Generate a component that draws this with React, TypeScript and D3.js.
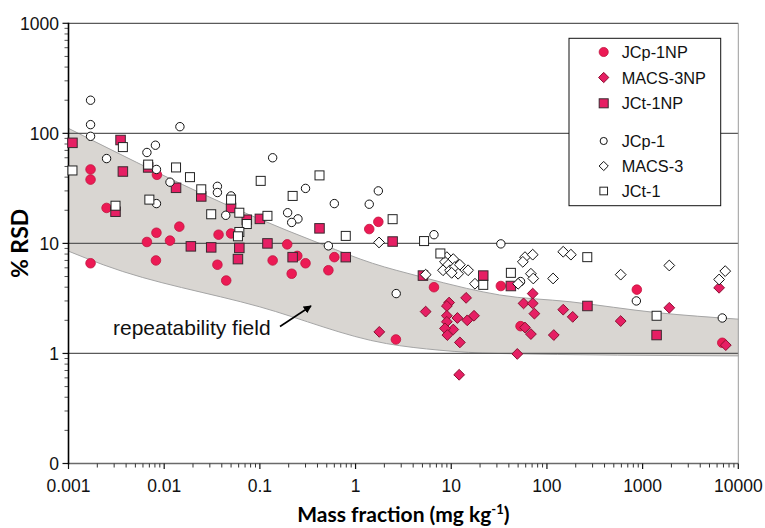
import React from 'react';
import * as d3 from 'd3';

const W = 765, H = 528;

const xTicks = [0.001, 0.01, 0.1, 1, 10, 100, 1000, 10000];
const xTickLabels = ['0.001', '0.01', '0.1', '1', '10', '100', '1000', '10000'];
const yTicks = [0.1, 1, 10, 100, 1000];
const yTickLabels = ['0', '1', '10', '100', '1000'];
const gridValues = [1, 10, 100, 1000];

// repeatability field boundaries [mass fraction, %RSD]
const bandUpper: [number, number][] = [
  [0.001, 111], [0.08, 18], [0.46, 9.7], [1.5, 6.6], [4.7, 5.0], [14.5, 3.9],
  [32, 3.4], [174, 2.95], [1400, 2.35], [10000, 2.05],
];
const bandLower: [number, number][] = [
  [0.001, 8.5], [0.0023, 6.4], [0.1, 2.65], [2.1, 1.23], [7.6, 1.07], [30, 1.0], [10000, 0.95],
];

const JCP1NP: [number, number][] = [
  [0.0017, 47], [0.0017, 38], [0.0017, 6.6], [0.0025, 21], [0.0084, 42], [0.0066, 10.3],
  [0.0083, 12.5], [0.0115, 10.6], [0.0144, 14.2], [0.0082, 7.0], [0.037, 12], [0.05, 12.3],
  [0.036, 6.4], [0.0445, 4.6], [0.136, 7.0], [0.193, 9.8], [0.215, 5.3], [0.246, 7.7],
  [0.3, 6.6], [0.6, 7.5], [0.52, 5.7], [1.73, 15.7], [1.39, 13.5], [2.64, 1.34], [6.6, 4.0],
  [33, 4.1], [53, 1.77], [870, 3.8], [6800, 1.25],
];
const MACS3NP: [number, number][] = [
  [1.77, 1.57], [5.4, 2.4], [14.3, 3.2], [9.5, 2.9], [9, 2.7], [9, 2.2], [11.6, 2.1], [17.3, 2.2],
  [14.7, 2.0], [9, 1.94], [10.5, 1.65], [8.6, 1.69], [9.1, 1.47], [12.3, 1.26], [12.1, 0.64],
  [71, 3.5], [57, 2.85], [71, 2.85], [74, 2.3], [148, 2.5], [59, 1.72], [68, 1.5], [118, 1.47],
  [49, 0.99], [186, 2.15], [590, 1.97], [1900, 2.6], [6300, 3.95], [7400, 1.19],
];
const JCT1NP: [number, number][] = [
  [0.0011, 82], [0.0035, 87], [0.0037, 45], [0.0031, 19.4], [0.0068, 49], [0.0133, 32],
  [0.0244, 26.7], [0.05, 21], [0.073, 16.4], [0.1, 16.7], [0.019, 9.4], [0.031, 9.2],
  [0.061, 9.1], [0.059, 7.2], [0.12, 10], [0.22, 7.5], [0.42, 13.7], [0.79, 7.5], [2.44, 10.4],
  [5.06, 5.1], [21.6, 5.1], [42, 4.1], [265, 2.7], [1400, 1.47],
];
const JCP1: [number, number][] = [
  [0.0017, 200], [0.0017, 120], [0.0017, 94], [0.0146, 115], [0.0025, 59], [0.0066, 67],
  [0.0081, 78], [0.0083, 47], [0.0115, 36], [0.0083, 23], [0.036, 33], [0.036, 29], [0.05, 27],
  [0.044, 18], [0.136, 60], [0.3, 31.6], [0.6, 23], [0.195, 19], [0.25, 16.7], [0.215, 15.5],
  [0.52, 9.5], [1.73, 30], [1.39, 22.7], [2.66, 3.5], [6.6, 12], [33, 9.9], [53, 4.5],
  [860, 3.0], [6800, 2.1],
];
const MACS3: [number, number][] = [
  [1.76, 10.2], [5.4, 5.2], [9, 7.5], [10.5, 7.2], [8.6, 6.8], [9.3, 6.4], [8.2, 5.7], [9.7, 5.7],
  [10.9, 6.1], [12.3, 6.4], [11.8, 5.3], [10.1, 5.4], [15, 5.7], [17.7, 4.3], [59, 7.5], [71, 7.9],
  [56, 6.8], [148, 8.4], [178, 7.9], [68, 5.3], [72, 4.8], [116, 4.8], [50, 4.3], [590, 5.2],
  [1900, 6.3], [6300, 4.7], [7300, 5.6],
];
const JCT1: [number, number][] = [
  [0.0011, 46], [0.0037, 75], [0.0031, 22], [0.0068, 52], [0.0133, 49], [0.0186, 40], [0.007, 25],
  [0.0244, 31], [0.05, 25], [0.031, 18.4], [0.061, 19], [0.073, 15], [0.061, 12.7], [0.059, 11.6],
  [0.102, 37], [0.42, 41.5], [0.22, 27], [0.12, 17.8], [0.79, 11.7], [2.44, 16.6], [5.2, 10.5],
  [7.7, 8.1], [21.6, 4.2], [42, 5.4], [264, 7.5], [1400, 2.2],
];

const legendLabels = ['JCp-1NP', 'MACS-3NP', 'JCt-1NP', 'JCp-1', 'MACS-3', 'JCt-1'];

const PINK_C = '#ec1a55';
const PINK = '#e61f64';

type Shape = 'circle' | 'square' | 'diamond';
interface Series { name: string; data: [number, number][]; shape: Shape; filled: boolean; }
const seriesList: Series[] = [
  { name: legendLabels[0], data: JCP1NP, shape: 'circle', filled: true },
  { name: legendLabels[1], data: MACS3NP, shape: 'diamond', filled: true },
  { name: legendLabels[2], data: JCT1NP, shape: 'square', filled: true },
  { name: legendLabels[3], data: JCP1, shape: 'circle', filled: false },
  { name: legendLabels[4], data: MACS3, shape: 'diamond', filled: false },
  { name: legendLabels[5], data: JCT1, shape: 'square', filled: false },
];

const x = d3.scaleLog().domain([0.001, 10000]).range([68.5, 738.3]);
const y = d3.scaleLog().domain([0.1, 1000]).range([463.5, 23.3]);

function Marker({ cx, cy, shape, filled, scale = 1 }: { cx: number; cy: number; shape: Shape; filled: boolean; scale?: number }) {
  if (shape === 'circle') {
    return filled
      ? <circle cx={cx} cy={cy} r={4.8 * scale} fill={PINK_C} stroke="#c0143f" strokeWidth={0.8} />
      : <circle cx={cx} cy={cy} r={4.2 * scale} fill="#fff" stroke="#111" strokeWidth={1} />;
  }
  if (shape === 'square') {
    const s = (filled ? 9.5 : 9) * scale;
    return <rect x={cx - s / 2} y={cy - s / 2} width={s} height={s}
      fill={filled ? PINK : '#fff'} stroke={filled ? '#3a2a30' : '#222'} strokeWidth={1} />;
  }
  const r = 5.4 * scale;
  return <polygon points={`${cx},${cy - r} ${cx + r},${cy} ${cx},${cy + r} ${cx - r},${cy}`}
    fill={filled ? PINK : '#fff'} stroke={filled ? '#8a1030' : '#111'} strokeWidth={1} />;
}

export default function App() {
  const [x0, x1] = x.range();
  const [yb, yt] = y.range();

  const line = d3.line<[number, number]>().x(d => x(d[0])).y(d => y(d[1])).curve(d3.curveMonotoneX);
  const upperPath = line(bandUpper) as string;
  const lowerPath = line(bandLower) as string;
  const lowerRev = line([...bandLower].reverse()) as string;
  const bandPath = upperPath + 'L' + lowerRev.slice(1) + 'Z';

  const xMinor: number[] = [];
  for (let e = -3; e < 4; e++) for (let k = 2; k <= 9; k++) xMinor.push(k * Math.pow(10, e));
  const yMinor: number[] = [];
  for (let e = -1; e < 3; e++) for (let k = 2; k <= 9; k++) yMinor.push(k * Math.pow(10, e));

  const legendRows = [52, 77.5, 103.3, 141, 166, 191];
  const lx = 603.7;

  return (
    <svg width={W} height={H} style={{ position: 'absolute', left: 0, top: 0 }}
      fontFamily="'Liberation Sans', Arial, sans-serif">
      <rect x={0} y={0} width={W} height={H} fill="#fff" />
      {/* band */}
      <path d={bandPath} fill="#d9d6d2" stroke="none" />
      <path d={upperPath} fill="none" stroke="#a5a5a5" strokeWidth={1} />
      <path d={lowerPath} fill="none" stroke="#a5a5a5" strokeWidth={1} />
      {/* gridlines */}
      {gridValues.map(v => (
        <line key={v} x1={x0} x2={x1} y1={y(v)} y2={y(v)} stroke="#5a5a5a" strokeWidth={1.3} />
      ))}
      {/* right border */}
      <line x1={x1} x2={x1} y1={yt} y2={yb} stroke="#9a9a9a" strokeWidth={1} />
      {/* bottom axis */}
      <line x1={x0} x2={x1} y1={yb} y2={yb} stroke="#6a6a6a" strokeWidth={1.6} />
      {xMinor.map((v, i) => (
        <line key={'xm' + i} x1={x(v)} x2={x(v)} y1={yb} y2={yb + 4} stroke="#333" strokeWidth={1} />
      ))}
      {xTicks.map((v, i) => (
        <g key={'xt' + i}>
          <line x1={x(v)} x2={x(v)} y1={yb} y2={yb + 5.5} stroke="#111" strokeWidth={1.2} />
          <text x={x(v)} y={491.5} textAnchor="middle" fontSize={17.5} fill="#111">{xTickLabels[i]}</text>
        </g>
      ))}
      {/* left axis */}
      {yMinor.map((v, i) => (
        <line key={'ym' + i} x1={x0 - 4} x2={x0} y1={y(v)} y2={y(v)} stroke="#555" strokeWidth={1} />
      ))}
      {yTicks.map((v, i) => (
        <g key={'yt' + i}>
          <line x1={x0 - 6} x2={x0} y1={y(v)} y2={y(v)} stroke="#111" strokeWidth={1.2} />
          <text x={59} y={y(v) + 6.3} textAnchor="end" fontSize={17.5} fill="#111">{yTickLabels[i]}</text>
        </g>
      ))}
      <line x1={x0} x2={x0} y1={yt - 0.5} y2={yb + 0.8} stroke="#000" strokeWidth={1.6} />

      {/* points */}
      {seriesList.map(s => (
        <g key={s.name}>
          {s.data.map((d, i) => (
            <Marker key={i} cx={x(d[0])} cy={y(d[1])} shape={s.shape} filled={s.filled} />
          ))}
        </g>
      ))}

      {/* annotation */}
      <text x={113} y={335} fontSize={21} fill="#111">repeatability field</text>
      <defs>
        <marker id="arrowHead" viewBox="0 0 10 10" refX={9} refY={5} markerWidth={5} markerHeight={5} orient="auto">
          <path d="M0,0 L10,5 L0,10 Z" fill="#000" />
        </marker>
      </defs>
      <line x1={280} y1={326.5} x2={311} y2={306} stroke="#000" strokeWidth={1.6} markerEnd="url(#arrowHead)" />

      {/* legend */}
      <rect x={569} y={38.3} width={151.7} height={167.4} fill="#fff" stroke="#111" strokeWidth={1} />
      {seriesList.map((s, i) => (
        <g key={'lg' + i}>
          <Marker cx={lx} cy={legendRows[i]} shape={s.shape} filled={s.filled} scale={s.filled ? 0.95 : 0.85} />
          <text x={621.7} y={legendRows[i] + 6} fontSize={16.3} fill="#111">{s.name}</text>
        </g>
      ))}

      {/* axis titles */}
      <text transform={`translate(28,${(yt + yb) / 2}) rotate(-90)`} textAnchor="middle"
        fontSize={23} fontWeight="bold" fontFamily="Lato, 'Liberation Sans', sans-serif" fill="#000">% RSD</text>
      <text x={(x0 + x1) / 2} y={521.5} textAnchor="middle" fontSize={21} fontWeight="bold"
        fontFamily="Lato, 'Liberation Sans', sans-serif" fill="#000">
        Mass fraction (mg kg<tspan dy={-8} fontSize={13}>-1</tspan><tspan dy={8}>)</tspan>
      </text>
    </svg>
  );
}
